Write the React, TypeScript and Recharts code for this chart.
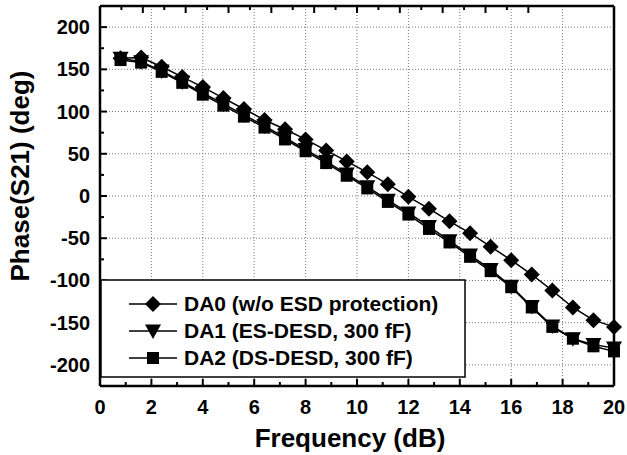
import React from "react";
import { LineChart, Line, XAxis, YAxis, CartesianGrid, Legend } from "recharts";

// frequency points (x axis, labelled "dB" in the original figure)
const freq = [0.8, 1.6, 2.4, 3.2, 4.0, 4.8, 5.6, 6.4, 7.2, 8.0, 8.8, 9.6, 10.4, 11.2, 12.0, 12.8, 13.6, 14.4, 15.2, 16.0, 16.8, 17.6, 18.4, 19.2, 20.0];

// phase(S21) in degrees
const da0 = [163, 164, 153, 141, 129, 116, 103, 90, 79, 67, 54, 41, 28, 14, -1, -15, -30, -44, -60, -76, -93, -112, -132, -147, -155];
const da1 = [163, 159, 148, 135, 122, 109, 96, 83, 69, 55, 41, 26, 11, -5, -20, -36, -53, -70, -87, -107, -131, -154, -169, -176, -180];
const da2 = [161, 158, 147, 134, 120, 107, 94, 81, 67, 53, 39, 24, 9, -7, -22, -39, -55, -72, -89, -108, -132, -155, -169, -178, -184];

const xTicks = [0, 1, 2, 3, 4, 5, 6, 7, 8, 9, 10, 11, 12, 13, 14, 15, 16, 17, 18, 19, 20];
const yTicks = [-200, -175, -150, -125, -100, -75, -50, -25, 0, 25, 50, 75, 100, 125, 150, 175, 200];
const xGrid = [2, 4, 6, 8, 10, 12, 14, 16, 18];
const yGrid = [-200, -150, -100, -50, 0, 50, 100, 150, 200];

const series = [
    { key: "da0", name: "DA0 (w/o ESD protection)", marker: "diamond" },
    { key: "da1", name: "DA1 (ES-DESD, 300 fF)", marker: "down" },
    { key: "da2", name: "DA2 (DS-DESD, 300 fF)", marker: "square" },
];

const chartData = freq.map((f, i) => ({ f, da0: da0[i], da1: da1[i], da2: da2[i] }));

const FONT = "'Liberation Sans', Arial, Helvetica, sans-serif";

function Marker({ cx, cy, kind }: { cx: number; cy: number; kind: string }) {
    if (cx == null || cy == null) return null;
    if (kind === "diamond") {
        return <polygon points={`${cx},${cy - 8} ${cx + 8},${cy} ${cx},${cy + 8} ${cx - 8},${cy}`} fill="#000" />;
    }
    if (kind === "down") {
        return <polygon points={`${cx - 8},${cy - 6.5} ${cx + 8},${cy - 6.5} ${cx},${cy + 8}`} fill="#000" />;
    }
    return <rect x={cx - 6} y={cy - 6} width={12} height={12} fill="#000" />;
}

// ticks point inward, minor ticks carry no label
function BottomTick({ x, y, payload }: any) {
    const v = payload.value;
    const major = v % 2 === 0;
    return (
        <g>
            <line x1={x} x2={x} y1={y} y2={y - (major ? 7 : 4)} stroke="#000" strokeWidth={2} />
            {major && (
                <text x={x} y={y + 21} dy="0.35em" textAnchor="middle" fontFamily={FONT} fontWeight="bold" fontSize={20} fill="#000">
                    {v}
                </text>
            )}
        </g>
    );
}

function TopTick({ x, y, payload }: any) {
    const major = payload.value % 2 === 0;
    return <line x1={x} x2={x} y1={y} y2={y + (major ? 7 : 4)} stroke="#000" strokeWidth={2} />;
}

function LeftTick({ x, y, payload }: any) {
    const v = payload.value;
    const major = v % 50 === 0;
    return (
        <g>
            <line x1={x} x2={x + (major ? 7 : 4)} y1={y} y2={y} stroke="#000" strokeWidth={2} />
            {major && (
                <text x={x - 10} y={y} dy="0.35em" textAnchor="end" fontFamily={FONT} fontWeight="bold" fontSize={20} fill="#000">
                    {v}
                </text>
            )}
        </g>
    );
}

function RightTick({ x, y, payload }: any) {
    const major = payload.value % 50 === 0;
    return <line x1={x} x2={x - (major ? 7 : 4)} y1={y} y2={y} stroke="#000" strokeWidth={2} />;
}

function LegendBox() {
    return (
        <svg width={366} height={100} style={{ display: "block" }}>
            <rect x={1} y={1} width={364} height={97} fill="#fff" stroke="#000" strokeWidth={1.5} />
            {series.map((s, i) => {
                const cy = 25 + i * 27;
                return (
                    <g key={s.key}>
                        <line x1={29} x2={77} y1={cy} y2={cy} stroke="#000" strokeWidth={1.5} />
                        <Marker cx={53} cy={cy} kind={s.marker} />
                        <text x={84} y={cy} dy="0.35em" fontFamily={FONT} fontWeight="bold" fontSize={21} fill="#000">
                            {s.name}
                        </text>
                    </g>
                );
            })}
        </svg>
    );
}

export default function App() {
    return (
        <div style={{ position: "absolute", left: 0, top: 0, width: 627, height: 455, background: "#fff" }}>
            <LineChart width={627} height={455} data={chartData} margin={{ top: 0, right: 0, bottom: 0, left: 0 }}>
                <CartesianGrid
                    stroke="#777"
                    strokeDasharray="1 2"
                    verticalValues={xGrid}
                    horizontalValues={yGrid}
                />
                <XAxis
                    dataKey="f"
                    type="number"
                    domain={[0, 20]}
                    ticks={xTicks}
                    interval={0}
                    height={69}
                    tickSize={0}
                    tickMargin={0}
                    tickLine={false}
                    axisLine={{ stroke: "#000", strokeWidth: 2.5 }}
                    tick={<BottomTick />}
                    label={({ viewBox }: any) => (
                        <text x={viewBox.x + viewBox.width / 2 - 7} y={viewBox.y + 61} textAnchor="middle" fontFamily={FONT} fontWeight="bold" fontSize={26} fill="#000">
                            Frequency (dB)
                        </text>
                    )}
                />
                <XAxis
                    xAxisId="top"
                    orientation="top"
                    type="number"
                    domain={[0, 20]}
                    ticks={xTicks}
                    interval={0}
                    height={6}
                    tickSize={0}
                    tickMargin={0}
                    tickLine={false}
                    axisLine={{ stroke: "#000", strokeWidth: 2.5 }}
                    tick={<TopTick />}
                />
                <YAxis
                    type="number"
                    domain={[-225, 225]}
                    ticks={yTicks}
                    interval={0}
                    width={100}
                    tickSize={0}
                    tickMargin={0}
                    tickLine={false}
                    axisLine={{ stroke: "#000", strokeWidth: 2.5 }}
                    tick={<LeftTick />}
                    label={({ viewBox }: any) => {
                        const cx = 20;
                        const cy = viewBox.y + viewBox.height / 2 - 20;
                        return (
                            <text x={cx} y={cy} dy="0.35em" transform={`rotate(-90 ${cx} ${cy})`} textAnchor="middle" fontFamily={FONT} fontWeight="bold" fontSize={26} fill="#000">
                                Phase(S21) (deg)
                            </text>
                        );
                    }}
                />
                <YAxis
                    yAxisId="right"
                    orientation="right"
                    type="number"
                    domain={[-225, 225]}
                    ticks={yTicks}
                    interval={0}
                    width={13}
                    tickSize={0}
                    tickMargin={0}
                    tickLine={false}
                    axisLine={{ stroke: "#000", strokeWidth: 2.5 }}
                    tick={<RightTick />}
                />
                {[...series].reverse().map((s) => (
                    <Line
                        key={s.key}
                        dataKey={s.key}
                        name={s.name}
                        type="linear"
                        stroke="#000"
                        strokeWidth={1.5}
                        isAnimationActive={false}
                        dot={(p: any) => <Marker key={`${s.key}-${p.index}`} cx={p.cx} cy={p.cy} kind={s.marker} />}
                        activeDot={false}
                    />
                ))}
                <Legend
                    layout="horizontal"
                    verticalAlign="middle"
                    align="center"
                    content={<LegendBox />}
                    wrapperStyle={{ left: 100, top: 279, width: 366, height: 100, margin: 0 }}
                />
            </LineChart>
        </div>
    );
}
